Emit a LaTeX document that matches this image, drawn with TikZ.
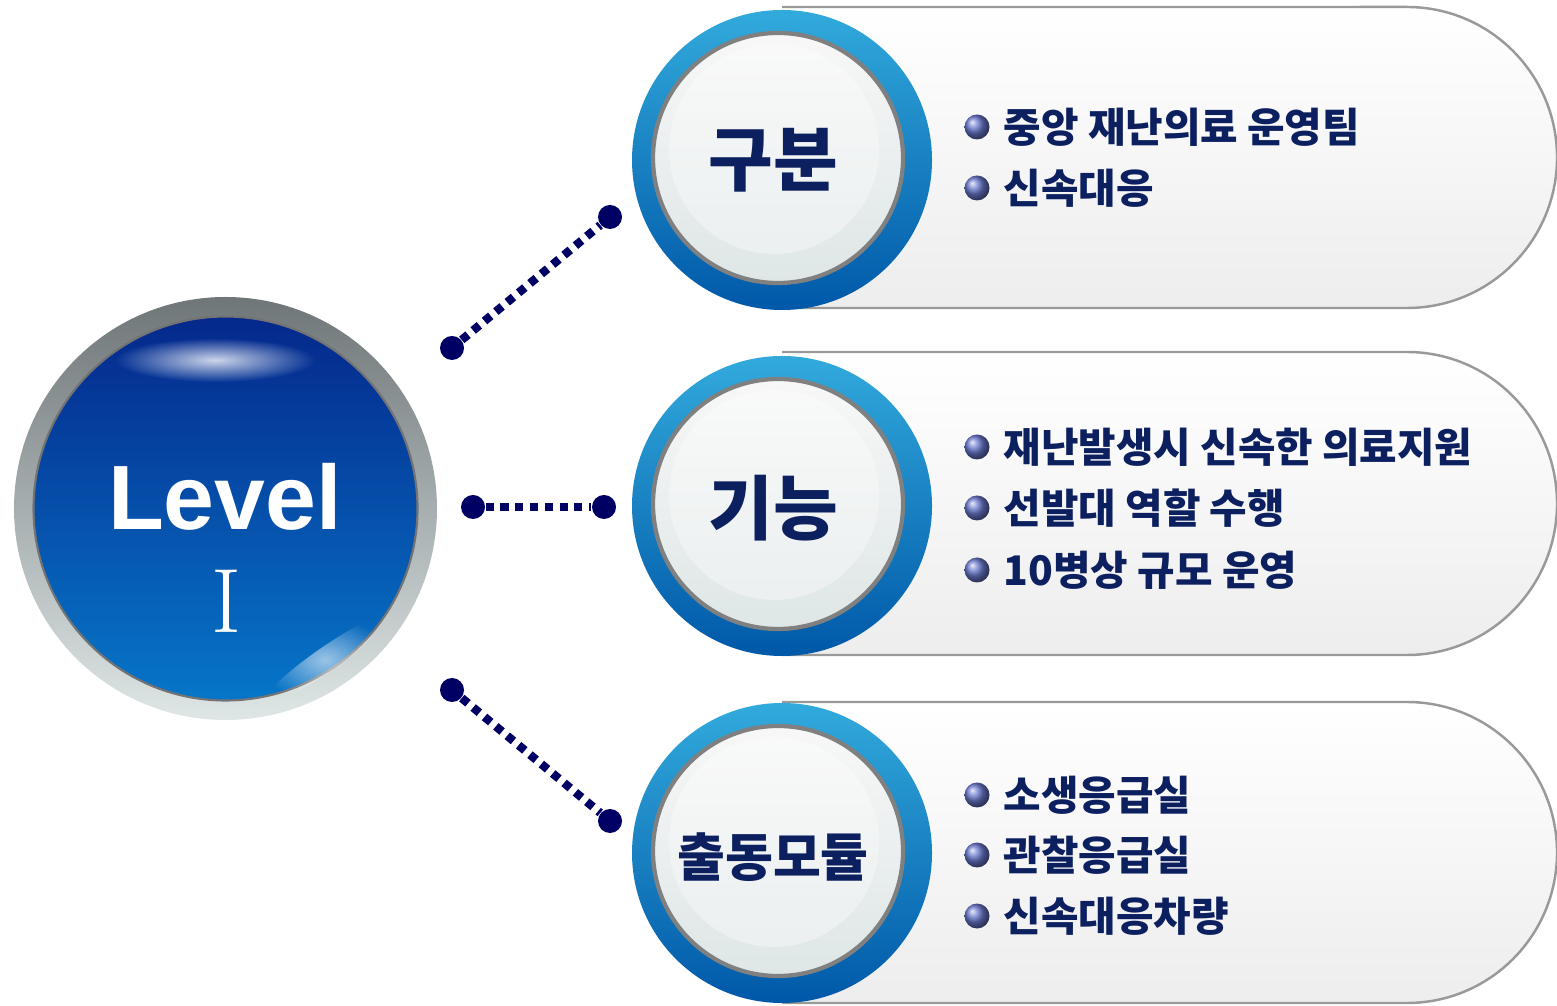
\documentclass[tikz,border=0pt]{standalone}
\usepackage{fontspec}
\setsansfont{Liberation Sans}
\newfontfamily\kr{Noto Sans CJK KR}
\usetikzlibrary{calc,fadings}

\definecolor{navy}{RGB}{0,0,100}
\definecolor{txtnavy}{RGB}{12,32,96}
\definecolor{ringtop}{RGB}{50,170,220}
\definecolor{ringbot}{RGB}{0,88,168}
\definecolor{bluetop}{RGB}{5,40,140}
\definecolor{bluebot}{RGB}{6,118,200}
\definecolor{greydark}{RGB}{110,118,120}
\definecolor{greylight}{RGB}{222,230,230}
\definecolor{ballblue}{RGB}{105,120,205}

\tikzfading[name=glow, inner color=transparent!0, outer color=transparent!100]

\tikzset{
  pillfill/.style={top color=white, bottom color=black!7},
  pilledge/.style={draw=black!40, line width=0.7pt},
  levelring/.style={circle, minimum size=4.23cm, inner sep=0pt, top color=greydark, bottom color=greylight},
  levelbtn/.style={circle, minimum size=3.84cm, inner sep=0pt, draw=black!55, line width=0.6pt, top color=bluetop, bottom color=bluebot},
  catring/.style={circle, minimum size=3.0cm, inner sep=0pt, top color=ringtop, bottom color=ringbot},
  catbtn/.style={circle, minimum size=2.5cm, inner sep=0pt, draw=black!50, line width=1.2pt, top color=black!3, bottom color=greylight},
  cattxt/.style={font=\kr\bfseries\fontsize{20}{20}\selectfont, text=txtnavy},
  bul/.style={circle, minimum size=0.25cm, inner sep=0pt, shading=ball, ball color=ballblue},
  item/.style={anchor=west, font=\kr\bfseries\fontsize{11.6}{11.6}\selectfont, text=txtnavy, inner sep=0pt},
  enddot/.style={circle, fill=navy, minimum size=0.24cm, inner sep=0pt},
  dotline/.style={navy, line width=2.4pt, dash pattern=on 2.3pt off 1.9pt},
}

\begin{document}
\begin{tikzpicture}
		\useasboundingbox (0,0) rectangle (15.57,10.05);
		%%%%% START %%%%%
		
		% pills
		\fill[pillfill] (7.82,9.98) -- (7.82,6.97) -- (14.07,6.97) arc[start angle=-90, end angle=90, x radius=1.5, y radius=1.505] -- cycle;
		\draw[pilledge] (7.82,6.97) -- (14.07,6.97) arc[start angle=-90, end angle=90, x radius=1.5, y radius=1.505] -- (7.82,9.98);
		\fill[pillfill] (7.82,6.53) -- (7.82,3.50) -- (14.07,3.50) arc[start angle=-90, end angle=90, x radius=1.5, y radius=1.515] -- cycle;
		\draw[pilledge] (7.82,3.50) -- (14.07,3.50) arc[start angle=-90, end angle=90, x radius=1.5, y radius=1.515] -- (7.82,6.53);
		\fill[pillfill] (7.82,3.03) -- (7.82,0.02) -- (14.07,0.02) arc[start angle=-90, end angle=90, x radius=1.5, y radius=1.505] -- cycle;
		\draw[pilledge] (7.82,0.02) -- (14.07,0.02) arc[start angle=-90, end angle=90, x radius=1.5, y radius=1.505] -- (7.82,3.03);
		
		% level button
		\node[levelring] (ring) at (2.255,4.965) {};
		\node[levelbtn] (level) at (2.255,4.965) {};
		\fill[white, path fading=glow, opacity=0.8] (2.15,6.45) ellipse (1.0 and 0.22);
		\fill[white, path fading=glow, opacity=0.6, rotate around={35:(3.25,3.45)}] (3.25,3.45) ellipse (0.75 and 0.12);
		\node[font=\sffamily\bfseries\fontsize{26}{26}\selectfont, text=white] (lvtxt) at (2.25,5.08) {Level};
		\node[font=\fontsize{26}{26}\selectfont, text=white] (lvnum) at (2.26,4.04) {I};
		
		% category buttons
		\node[catring] (r1) at (7.82,8.45) {};
		\node[catbtn] (c1) at (7.78,8.47) {};
		\fill[white, opacity=0.35] (7.74,8.56) circle (1.05);
		\node[catring] (r2) at (7.82,4.99) {};
		\node[catbtn] (c2) at (7.78,5.01) {};
		\fill[white, opacity=0.35] (7.74,5.10) circle (1.05);
		\node[catring] (r3) at (7.82,1.52) {};
		\node[catbtn] (c3) at (7.78,1.54) {};
		\fill[white, opacity=0.35] (7.74,1.63) circle (1.05);
		
		\node[cattxt] at (7.73,8.45) {구분};
		\node[cattxt] at (7.73,4.97) {기능};
		\node[cattxt, font=\kr\bfseries\fontsize{14.8}{14.8}\selectfont] at (7.73,1.48) {출동모듈};
		
		% connectors
		\node[enddot] (d1a) at (4.52,6.57) {};
		\node[enddot] (d1b) at (6.10,7.88) {};
		\draw[dotline] (d1a) -- (d1b);
		\node[enddot] (d2a) at (4.73,4.98) {};
		\node[enddot] (d2b) at (6.04,4.98) {};
		\draw[dotline] (d2a) -- (d2b);
		\node[enddot] (d3a) at (4.52,3.15) {};
		\node[enddot] (d3b) at (6.10,1.84) {};
		\draw[dotline] (d3a) -- (d3b);
		
		% items
		\node[bul] at (9.77,8.78) {};
		\node[item] at (10.03,8.78) {중앙 재난의료 운영팀};
		\node[bul] at (9.77,8.17) {};
		\node[item] at (10.03,8.17) {신속대응};
		
		\node[bul] at (9.77,5.58) {};
		\node[item] at (10.03,5.58) {재난발생시 신속한 의료지원};
		\node[bul] at (9.77,4.97) {};
		\node[item] at (10.03,4.97) {선발대 역할 수행};
		\node[bul] at (9.77,4.35) {};
		\node[item] at (10.03,4.35) {10병상 규모 운영};
		
		\node[bul] at (9.77,2.10) {};
		\node[item] at (10.03,2.10) {소생응급실};
		\node[bul] at (9.77,1.50) {};
		\node[item] at (10.03,1.50) {관찰응급실};
		\node[bul] at (9.77,0.89) {};
		\node[item] at (10.03,0.89) {신속대응차량};
		
		%%%%% END %%%%%
	\end{tikzpicture}
\end{document}
